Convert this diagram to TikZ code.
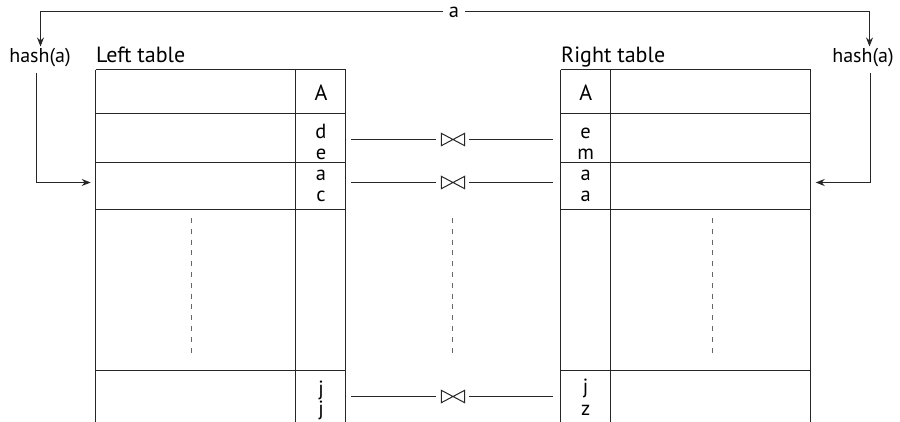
\documentclass[tikz,border=0pt]{standalone}
\usepackage{fontspec}
\setmainfont{PT Sans}
\usetikzlibrary{arrows.meta}
\begin{document}
\begin{tikzpicture}[x=1pt,y=-1pt,
  tbl/.style={line width=1.3pt,draw=black!85},
  conn/.style={line width=1pt,draw=black!85},
  arr/.style={conn,-{Stealth[length=9pt,width=7pt]}},
  dots/.style={line width=1pt,draw=black!60,dash pattern=on 5pt off 5.8pt},
  lbl/.style={inner sep=0pt,font=\fontsize{22}{26}\selectfont},
  hashlbl/.style={inner sep=2pt,font=\fontsize{20}{24}\selectfont},
  cell/.style={inner sep=0pt,anchor=base,font=\fontsize{20.5}{24}\selectfont},
  bowtie/.style={minimum width=23pt,minimum height=12pt,inner sep=0pt}]
\useasboundingbox (0,0) rectangle (900,421);
% tables
\foreach \xa/\xb/\xc in {95.5/295.5/345.5, 560.5/610.5/810.5}{
  \draw[tbl] (\xa,69.5) -- (\xc,69.5);
  \foreach \yy in {113.5,162.5,209.5,370.5}{\draw[tbl] (\xa,\yy) -- (\xc,\yy);}
  \foreach \xx in {\xa,\xb,\xc}{\draw[tbl] (\xx,69.5) -- (\xx,424);}
}
% titles
\node[lbl,anchor=base west] (lt) at (96,62) {Left table};
\node[lbl,anchor=base west] (rt) at (561,62) {Right table};
% cells left
\node[cell,font=\fontsize{22}{26}\selectfont] (lA) at (321,100) {A};
\node[cell] (l1a) at (321,138.3) {d};
\node[cell] (l1b) at (321,159) {e};
\node[cell] (l2a) at (321,180.7) {a};
\node[cell] (l2b) at (321,201.7) {c};
\node[cell] (l3a) at (321,395) {j};
\node[cell] (l3b) at (321,415) {j};
% cells right
\node[cell,font=\fontsize{22}{26}\selectfont] (rA) at (585.7,100) {A};
\node[cell] (r1a) at (585.7,138.3) {e};
\node[cell] (r1b) at (585.7,159) {m};
\node[cell] (r2a) at (585.7,180.7) {a};
\node[cell] (r2b) at (585.7,201.7) {a};
\node[cell] (r3a) at (585.7,393) {j};
\node[cell] (r3b) at (585.7,415) {z};
% dashed continuation
\coordinate (dl1) at (191.5,218); \coordinate (dl2) at (191.5,358);
\coordinate (dm1) at (452.5,218); \coordinate (dm2) at (452.5,358);
\coordinate (dr1) at (712.5,218); \coordinate (dr2) at (712.5,358);
\draw[dots] (dl1) -- (dl2);
\draw[dots] (dm1) -- (dm2);
\draw[dots] (dr1) -- (dr2);
% join connectors
\foreach \i/\yy in {1/139.5,2/182.5,3/396.5}{
  \coordinate (jl\i) at (351,\yy);
  \coordinate (jr\i) at (553,\yy);
  \node[bowtie] (bw\i) at (453,\yy) {};
  \draw[conn,line join=miter] (bw\i.north west) -- (bw\i.south east) -- (bw\i.north east) -- (bw\i.south west) -- cycle;
  \draw[conn,shorten >=5.7pt] (jl\i) -- (bw\i.west);
  \draw[conn,shorten >=4pt] (jr\i) -- (bw\i.east);
}
% hash labels and top line
\node[hashlbl] (hL) at (40,58) {hash(a)};
\node[hashlbl] (hR) at (863,58) {hash(a)};
\node[inner sep=0pt,font=\fontsize{20.5}{24}\selectfont] (ta) at (454,12.5) {a};
\coordinate (tl) at (40.5,11.5);
\coordinate (tr) at (869.5,11.5);
\draw[arr,shorten <=6pt] (ta.west |- tl) -- (tl) -- (tl |- hL.north);
\draw[arr,shorten <=6pt] (ta.east |- tr) -- (tr) -- (tr |- hR.north);
% hash to tables
\coordinate (hLs) at (36.5,73);
\coordinate (hRs) at (870.5,73);
\coordinate (eL) at (90.7,182.5);
\coordinate (eR) at (815.7,182.5);
\draw[arr] (hLs) |- (eL);
\draw[arr] (hRs) |- (eR);
\end{tikzpicture}
\end{document}
